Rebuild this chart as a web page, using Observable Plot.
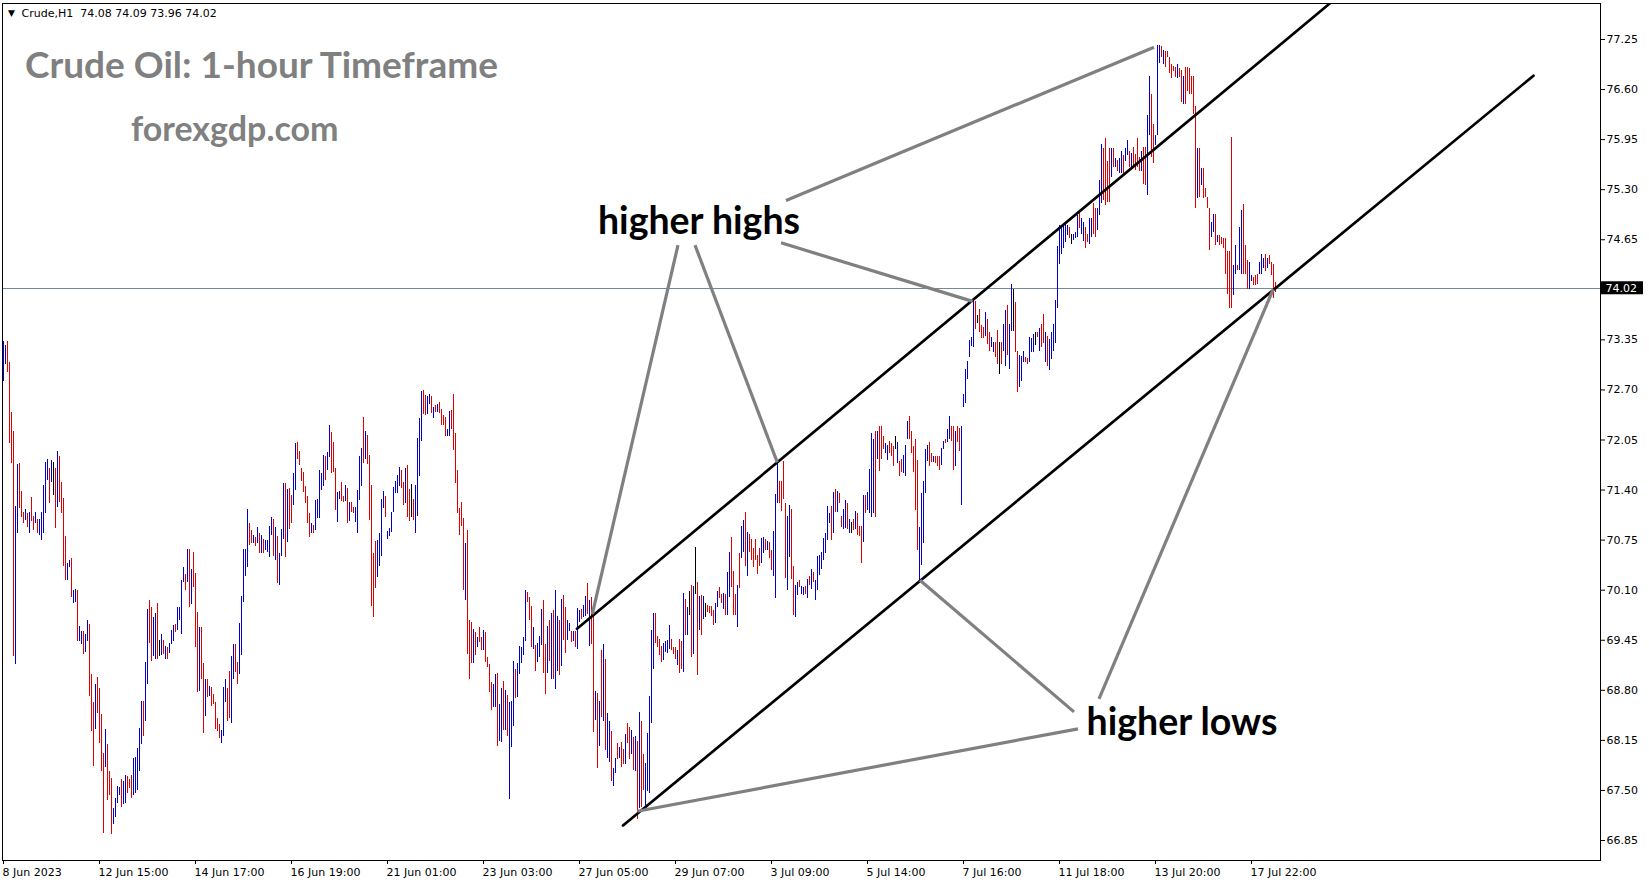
<!DOCTYPE html>
<html><head><meta charset="utf-8">
<script src="https://cdn.jsdelivr.net/npm/d3@7"></script>
<script src="https://cdn.jsdelivr.net/npm/@observablehq/plot@0.6"></script>
<style>
html,body{margin:0;padding:0;background:#fff;}
#chart{position:absolute;left:0;top:0;}
</style></head><body><div id="chart"></div>
<script>
// ---- hourly bar highs (index 0 = first bar, 8 Jun 2023) ----
const highs = [
73.33,73.28,73.33,73.06,72.41,72.16,71.19,71.73,71.74,71.38,
71.11,71.15,71.10,71.11,71.30,71.06,71.11,71.02,71.02,71.11,
71.46,71.76,71.80,71.68,71.78,71.76,71.68,71.90,71.83,71.50,
71.29,70.80,70.45,70.48,70.51,70.10,70.11,70.10,69.63,69.57,
69.57,69.53,69.71,69.66,69.00,68.64,68.88,68.96,68.83,68.48,
67.98,68.29,68.10,67.74,67.66,67.26,67.40,67.55,67.54,67.64,
67.62,67.70,67.68,67.64,67.70,67.92,67.93,68.05,68.31,68.66,
68.66,69.16,69.85,69.96,69.87,69.74,69.80,69.93,69.45,69.53,
69.45,69.37,69.36,69.41,69.58,69.64,69.66,69.88,69.88,70.22,
70.40,70.31,70.63,70.63,70.37,70.59,70.32,69.81,69.62,69.62,
69.15,68.94,68.94,68.85,68.84,68.75,68.64,68.44,68.35,68.28,
68.84,68.94,68.83,69.05,69.24,69.40,69.40,69.16,69.67,70.02,
70.63,70.63,71.15,70.97,70.87,70.81,70.79,70.92,70.83,70.81,
70.76,70.74,70.75,70.93,71.05,71.02,70.92,70.80,70.57,70.89,
71.49,71.48,71.41,71.42,71.33,71.61,72.00,72.02,71.90,71.68,
71.63,71.44,71.31,71.09,70.96,70.94,71.26,71.28,71.65,71.61,
71.85,71.83,71.89,72.24,72.15,72.02,71.68,71.37,71.38,71.50,
71.31,71.46,71.42,71.24,71.24,71.18,71.17,71.39,71.83,71.94,
72.34,72.16,72.11,71.85,71.46,70.57,70.73,70.75,70.83,71.28,
71.38,71.31,70.86,70.90,71.11,71.43,71.51,71.59,71.69,71.66,
71.50,71.68,71.72,71.41,71.47,71.28,71.46,72.07,72.33,72.68,
72.69,72.63,72.61,72.64,72.61,72.47,72.50,72.51,72.54,72.44,
72.37,72.34,72.19,72.42,72.43,72.64,72.13,71.65,71.16,71.24,
71.03,70.71,70.87,69.71,69.68,69.59,69.55,69.49,69.62,69.49,
69.58,69.55,69.23,69.14,68.90,68.88,69.01,69.02,68.61,68.83,
68.92,68.80,68.73,68.64,68.66,69.18,69.07,69.15,69.37,69.36,
69.49,70.10,70.07,70.01,69.89,69.61,69.38,69.41,69.50,69.85,
69.96,69.40,69.63,69.70,69.80,69.83,70.09,69.76,69.70,69.98,
70.03,69.87,69.70,69.67,69.57,69.56,69.56,69.86,69.83,69.85,
69.90,70.02,70.19,69.96,70.00,69.77,68.79,68.76,68.66,69.32,
69.40,69.20,68.50,68.40,68.27,67.79,67.92,68.11,68.06,68.12,
68.03,68.23,68.37,68.32,68.28,68.19,68.20,68.14,68.51,68.40,
67.97,67.85,68.24,68.72,69.58,69.80,69.80,69.50,69.46,69.37,
69.41,69.44,69.45,69.64,69.46,69.36,69.36,69.32,69.46,69.44,
70.06,69.98,69.88,70.08,70.16,70.15,70.65,70.20,70.02,70.03,
70.02,69.93,69.90,69.89,69.89,69.83,69.93,70.08,70.13,70.04,
70.06,70.04,70.33,70.59,70.78,70.34,70.04,70.16,70.57,70.93,
71.00,71.11,70.85,70.82,70.76,70.64,70.76,70.55,70.64,70.77,
70.78,70.76,70.73,70.72,70.61,70.86,71.34,71.78,71.51,71.51,
71.77,71.22,71.06,71.20,71.15,70.41,70.16,70.20,70.23,70.15,
70.14,70.15,70.24,70.28,70.37,70.33,70.23,70.54,70.55,70.59,
70.77,70.84,71.19,71.09,71.19,71.37,71.41,71.38,71.35,71.06,
71.15,71.27,71.23,71.02,70.98,71.02,71.12,71.10,70.93,70.93,
71.33,71.33,71.37,71.67,72.14,72.06,72.16,72.16,72.22,72.22,
72.09,72.01,71.98,72.03,72.01,71.96,72.09,72.02,71.77,71.80,
71.85,71.98,72.29,72.36,72.16,71.96,72.05,71.79,70.92,71.36,
71.51,71.93,71.98,72.02,71.87,71.83,71.84,71.84,71.83,71.94,
72.03,72.06,72.19,72.36,72.23,72.23,72.16,72.22,72.20,72.22,
72.64,72.96,73.07,73.34,73.38,73.85,73.85,73.66,73.74,73.54,
73.51,73.71,73.61,73.44,73.38,73.31,73.32,73.47,73.32,73.32,
73.55,73.73,73.80,73.55,74.07,74.00,73.83,73.20,73.15,73.14,
73.20,73.12,73.11,73.38,73.37,73.42,73.45,73.44,73.50,73.55,
73.68,73.45,73.40,73.35,73.45,73.55,73.86,74.56,74.83,74.81,
74.85,74.85,74.83,74.81,74.72,74.72,74.75,74.96,75.02,74.93,
74.87,74.81,74.72,74.93,74.93,75.12,75.05,75.06,75.42,75.89,
75.83,75.96,75.67,75.84,75.84,75.84,75.70,75.68,75.70,75.80,
75.75,75.84,75.94,75.79,75.77,75.85,75.76,75.96,75.72,75.79,
75.85,75.85,76.26,76.77,76.54,76.15,76.01,77.17,77.17,77.16,
77.11,77.10,77.10,77.02,76.92,76.90,76.89,76.93,76.87,76.85,
76.77,76.89,76.89,76.87,76.77,76.77,76.38,75.84,75.84,75.58,
75.58,75.32,75.20,75.05,74.87,74.98,74.98,74.71,74.70,74.68,
74.67,74.66,74.50,74.50,75.98,74.32,74.57,74.32,74.81,75.03,
75.11,74.57,74.38,74.36,74.18,74.16,74.18,74.20,74.36,74.46,
74.41,74.46,74.41,74.45,74.35,74.33,74.09
];
// ---- hourly bar lows ----
const lows = [
72.81,73.03,72.93,72.01,71.75,69.24,69.14,70.83,71.16,71.05,
70.96,71.01,70.92,70.83,70.99,70.88,70.96,70.83,70.81,70.75,
70.84,71.09,71.53,71.23,71.50,71.33,70.90,71.18,71.24,71.10,
70.41,70.22,70.23,70.40,70.00,69.93,69.94,69.44,69.44,69.40,
69.27,69.29,69.44,68.72,68.26,67.81,68.29,68.50,68.11,67.75,
66.94,67.80,67.37,67.44,66.93,67.06,67.15,67.33,67.44,67.28,
67.32,67.33,67.46,67.53,67.40,67.44,67.46,67.50,67.74,68.09,
68.20,68.39,68.87,69.41,69.18,69.24,69.20,69.20,69.24,69.25,
69.27,69.20,69.20,69.28,69.40,69.44,69.55,69.58,69.71,69.53,
70.20,70.09,70.20,69.88,69.92,70.14,69.35,68.77,68.79,68.94,
68.24,68.46,68.71,68.72,68.59,68.61,68.29,68.27,68.18,68.11,
68.20,68.64,68.39,68.44,68.37,68.94,69.03,68.87,69.01,69.25,
69.94,70.28,70.39,70.68,70.70,70.70,70.67,70.71,70.58,70.58,
70.57,70.61,70.59,70.53,70.81,70.54,70.48,70.19,70.16,70.54,
70.76,70.53,70.72,70.89,70.96,71.20,71.40,71.80,71.72,71.51,
71.37,71.23,70.96,70.79,70.83,70.84,70.88,71.03,71.03,71.40,
71.44,71.53,71.65,71.82,71.62,71.63,71.14,70.98,71.28,71.25,
71.24,71.25,70.97,70.99,71.11,71.10,70.98,70.83,71.27,71.44,
71.74,71.80,71.73,71.01,69.89,69.75,70.12,70.27,70.41,70.54,
71.16,71.05,70.76,70.80,70.85,71.11,71.35,71.36,71.45,71.42,
71.20,71.23,71.05,70.99,71.05,71.01,70.83,71.06,71.58,72.03,
72.38,72.37,72.38,72.51,72.40,72.33,72.41,72.41,72.40,72.24,
72.24,72.09,72.10,72.10,72.19,71.92,71.49,71.10,70.81,70.93,
70.09,69.96,69.26,68.94,69.15,69.15,69.25,69.35,69.42,69.32,
69.32,69.16,69.09,68.77,68.54,68.58,68.58,68.07,68.14,68.12,
68.28,68.28,68.20,67.38,68.06,68.33,68.70,68.71,69.01,69.15,
69.25,69.44,69.94,69.71,69.35,69.33,69.05,69.16,69.22,69.38,
69.02,68.75,69.02,69.18,68.94,68.94,68.81,69.05,68.99,69.11,
69.45,69.28,69.45,69.57,69.42,69.44,69.35,69.33,69.68,69.72,
69.75,69.76,69.79,69.37,69.40,68.25,68.41,67.79,68.07,68.45,
68.40,68.02,67.92,67.86,67.61,67.55,67.72,67.90,67.92,67.80,
67.84,67.84,68.11,67.90,67.97,67.76,67.75,67.12,67.27,67.28,
67.50,67.29,67.48,67.46,68.37,69.07,69.41,69.35,69.25,69.16,
69.19,69.29,69.28,69.33,69.32,69.27,69.20,69.12,69.02,69.07,
69.03,69.51,69.51,69.77,69.22,69.27,70.05,68.99,69.58,69.51,
69.72,69.75,69.81,69.80,69.76,69.64,69.67,69.88,69.99,69.93,
69.85,69.77,69.77,70.01,70.14,69.77,69.77,69.61,70.12,70.51,
70.59,70.41,70.28,70.59,70.48,70.40,70.48,70.31,70.41,70.44,
70.58,70.61,70.61,70.51,70.35,70.28,69.99,71.22,71.23,71.12,
71.28,70.25,70.09,70.53,70.24,69.77,69.75,70.03,70.14,70.05,
70.03,70.05,69.99,70.16,70.11,70.20,69.96,70.09,70.29,70.37,
70.48,70.57,70.74,70.97,70.75,70.83,71.11,71.11,71.23,70.92,
70.89,70.90,70.89,70.84,70.84,70.88,70.89,70.81,70.80,70.44,
70.72,71.10,71.14,71.10,71.05,71.09,71.05,71.80,71.64,71.80,
71.93,71.88,71.79,71.88,71.83,71.70,71.93,71.75,71.58,71.63,
71.61,71.57,72.06,72.06,71.88,71.63,71.14,70.61,70.23,70.42,
70.70,71.35,71.77,71.70,71.76,71.76,71.75,71.71,71.66,71.72,
71.93,72.01,72.02,72.05,72.03,71.66,71.70,72.02,71.90,71.20,
72.47,72.52,72.84,73.12,73.26,73.25,73.49,73.56,73.44,73.37,
73.37,73.40,73.29,73.20,73.25,73.19,73.12,73.03,72.90,73.03,
73.20,73.01,73.15,72.96,73.46,73.46,73.18,72.67,72.73,72.81,
73.05,73.05,73.03,73.05,73.18,73.19,73.28,73.38,73.20,73.25,
73.30,73.05,73.00,72.95,73.10,73.20,73.30,73.76,74.33,74.46,
74.53,74.61,74.71,74.66,74.59,74.64,74.66,74.68,74.80,74.72,
74.63,74.54,74.61,74.59,74.68,74.72,74.68,74.77,74.97,75.12,
75.16,75.09,75.14,75.14,75.46,75.59,75.59,75.53,75.51,75.51,
75.51,75.67,75.74,75.59,75.58,75.59,75.55,75.59,75.53,75.53,
75.37,75.36,75.22,76.00,75.72,75.64,75.87,76.00,76.94,77.01,
76.93,76.89,77.02,76.81,76.74,76.83,76.76,76.74,76.76,76.43,
76.41,76.41,76.57,76.53,76.53,76.27,75.05,75.18,75.20,75.35,
75.18,75.20,75.06,74.51,74.68,74.75,74.57,74.62,74.57,74.59,
74.54,74.20,73.94,73.76,73.76,73.92,74.20,74.25,74.25,74.20,
74.20,74.20,74.01,74.00,74.11,74.05,74.05,74.07,74.20,74.20,
74.28,74.24,74.28,74.33,74.19,73.89,73.96
];
// ---- bar direction: b = up (blue), r = down (red), k = unchanged (black) ----
const dirs =
"bbrrrrbbrr" + "rbrbrrbrbb" + "bbbrbkrbrr" + "rrbbrbbrbb" + "rbbrrrbrrr" +
"rbrrrbbbbr" + "bbrrrbbbbb" + "rbbrrbbrkb" + "rbrbbbrbbb" + "brbrbrrrbr" +
"rbrbrrrrrb" + "bbrrbbrrbb" + "bbbrrbrbrb" + "rbbbbrbrbb" + "brbrrbbrrr" +
"rrrrbrbbbb" + "brbbrrrbbr" + "rbrbrrbbbb" + "rbrrrrrbbb" + "brbbbbbbbr" +
"rbrrkrbbbb" + "rrbbrbrbrr" + "rrbbrrrrrr" + "rbrrrbrbrr" + "brrrrbbrbb" +
"rbrbbbrbbb" + "bbrrrbrbbb" + "rrbrbrbbrb" + "rrbbrbrbbr" + "bbrbrrbrbr" +
"brbbrbbrbr" + "rbrrbrbrbr" + "rbbbbbrrrr" + "bbbbrrrbrr" + "brbkrbkrbr" +
"bkrrrrbbrr" + "brbbrrrbrb" + "brbrrrrrrb" + "brbrrbbbrr" + "rrbbrrbbrb" +
"brbrbrbbbb" + "bbbbrbrbrr" + "bbrbkrbrrr" + "brbbbbrbrr" + "rbbrrrkbrr" +
"bbbrrrrrbb" + "bbbrrbrrrb" + "brbbrrbrrb" + "bbbbbbrkrr" + "rbrrbbrrkr" +
"bbrbbkrrbb" + "brrbbbkrbr" + "rbrbbbbbbb" + "bbbrkbbbrb" + "brrbbrrbbb" +
"rrrrbrbrbb" + "rbbrbrrrrb" + "rrbbrrbbbr" + "brrrrrrbrr" + "brrrrrrbrb" +
"rrrrbbrbrr" + "rrrrrbbrbb" + "rrrbbrrrbb" + "brbrrrr";

// ---- time axis: bar index and label ----
const xTickIndex = [0,48,96,144,192,240,288,336,384,432,480,528,576,624];
const xTickLabels = ["8 Jun 2023","12 Jun 15:00","14 Jun 17:00","16 Jun 19:00","21 Jun 01:00",
  "23 Jun 03:00","27 Jun 05:00","29 Jun 07:00","3 Jul 09:00","5 Jul 14:00",
  "7 Jul 16:00","11 Jul 18:00","13 Jul 20:00","17 Jul 22:00"];
// ---- price axis ----
const yTicks = [66.85,67.50,68.15,68.80,69.45,70.10,70.75,71.40,72.05,72.70,73.35,74.65,75.30,75.95,76.60,77.25];
const lastPrice = 74.02;
const header = "Crude,H1  74.08 74.09 73.96 74.02";

// ---- drawn channel (bar index, price) ----
const channelUpper = [{i:286.75, p:69.60},{i:663.25, p:77.72}];
const channelLower = [{i:309.75, p:67.045},{i:765, p:76.78}];
// ---- annotation pointer lines (bar index / price pairs) ----
const pointers = [
  {i1:391.25,p1:75.16,i2:575.25,p2:77.15},
  {i1:388.75,p1:74.61,i2:484.6, p2:73.85},
  {i1:337.25,p1:74.58,i2:294.4, p2:69.79},
  {i1:345.75,p1:74.58,i2:386.9, p2:71.76},
  {i1:547.75,p1:68.69,i2:634.9, p2:74.01},
  {i1:535.25,p1:68.52,i2:458.25,p2:70.23},
  {i1:537.25,p1:68.30,i2:316.9, p2:67.23}
];
const annotations = [{text:"higher highs", i:347.75, p:74.874},{text:"higher lows", i:589.25, p:68.382}];
const titles = [{text:"Crude Oil: 1-hour Timeframe", i:10.75, p:76.90, size:37},{text:"forexgdp.com", i:63.75, p:76.07, size:34}];

const N = Math.min(highs.length, lows.length);
const idx = d3.range(N);
const colorOf = {b:"#0000c8", r:"#e00000", k:"#000000"};
const yMin = 66.5903, yMax = 77.7174;
const W = 1649, H = 884, mL = 2, mR = 49, mT = 3, mB = 24;
const xDomain = [-0.5, 798.5];
const pxPerUnitY = (H - mB - mT) / (yMax - yMin);
const unitsPerPxX = (xDomain[1] - xDomain[0]) / (W - mR - mL);

const barMarks = ["b","r","k"].map(c => Plot.ruleX(idx.filter(i => dirs[i] === c), {
  x: i => i, y1: i => lows[i], y2: i => highs[i], stroke: colorOf[c], strokeWidth: 1, shapeRendering: "crispEdges"
}));

const chart = Plot.plot({
  width: W, height: H,
  marginLeft: mL, marginRight: mR, marginTop: mT, marginBottom: mB,
  style: {fontFamily: "DejaVu Sans", fontSize: "11px", color: "black", background: "white", overflow: "visible"},
  x: {type: "linear", domain: xDomain, axis: "bottom", ticks: xTickIndex, tickFormat: () => "", tickSize: 4, label: null},
  y: {type: "linear", domain: [yMin, yMax], axis: "right", ticks: yTicks, tickFormat: d => d.toFixed(2), tickSize: 4, tickPadding: 2, label: null},
  marks: [
    Plot.ruleY([lastPrice], {y: d => d, stroke: "#778899", strokeWidth: 1, shapeRendering: "crispEdges"}),
    ...barMarks,
    Plot.line(channelUpper, {x: "i", y: "p", stroke: "black", strokeWidth: 2.7, clip: true}),
    Plot.line(channelLower, {x: "i", y: "p", stroke: "black", strokeWidth: 2.7, clip: true}),
    Plot.link(pointers, {x1: "i1", y1: "p1", x2: "i2", y2: "p2", stroke: "#808080", strokeWidth: 3.2}),
    Plot.text(annotations, {x: "i", y: "p", text: "text", fontFamily: "Lato", fontWeight: "bold", fontSize: 37.5, fill: "black", textAnchor: "middle", lineAnchor: "middle"}),
    Plot.text(titles.slice(0, 1), {x: "i", y: "p", text: "text", fontFamily: "Lato", fontWeight: "bold", fontSize: titles[0].size, fill: "#808080", textAnchor: "start", lineAnchor: "middle"}),
    Plot.text(titles.slice(1), {x: "i", y: "p", text: "text", fontFamily: "Lato", fontWeight: "bold", fontSize: titles[1].size, fill: "#808080", textAnchor: "start", lineAnchor: "middle"}),
    Plot.text([header], {text: d => d, frameAnchor: "top-left", dx: 19, dy: 10, textAnchor: "start", lineAnchor: "middle", fontSize: 11, fill: "black"}),
    Plot.text(["\u25BC"], {text: d => d, frameAnchor: "top-left", dx: 9, dy: 10, textAnchor: "middle", lineAnchor: "middle", fontSize: 9, fill: "black"}),
    Plot.text(xTickIndex, {x: d => d, text: (d, k) => xTickLabels[k], frameAnchor: "bottom", dy: 12, dx: -1, textAnchor: "start", lineAnchor: "middle", fill: "black"}),
    Plot.rect([lastPrice], {x1: xDomain[1], x2: xDomain[1] + 43 * unitsPerPxX, y1: d => d - 6.5 / pxPerUnitY, y2: d => d + 6.5 / pxPerUnitY, fill: "black"}),
    Plot.text([lastPrice], {x: xDomain[1], y: d => d, text: d => d.toFixed(2), dx: 5, textAnchor: "start", lineAnchor: "middle", fill: "white"}),
    Plot.frame({stroke: "black", shapeRendering: "crispEdges"})
  ]
});
document.getElementById("chart").appendChild(chart);
</script>
</body></html>
